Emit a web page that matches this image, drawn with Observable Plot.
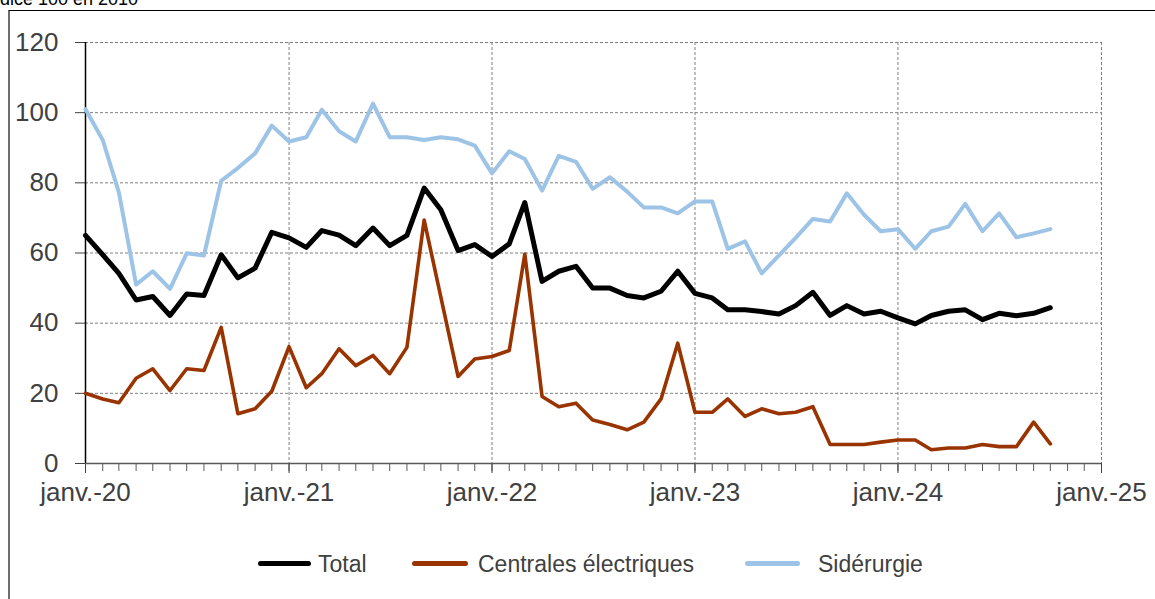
<!DOCTYPE html>
<html>
<head>
<meta charset="utf-8">
<script src="https://cdn.jsdelivr.net/npm/d3@7"></script>
<script src="https://cdn.jsdelivr.net/npm/@observablehq/plot@0.6"></script>
<style>
  html, body { margin: 0; padding: 0; background: #fff; }
  body { font-family: "Liberation Sans", Arial, sans-serif; }
  #wrap { position: relative; width: 1155px; height: 599px; overflow: hidden; }
  #title { position: relative; height: 10px; overflow: hidden; }
  #title span { position: absolute; left: -15px; top: -10px; font-size: 18px; line-height: 18px; color: #000; white-space: nowrap; }
  #chart { height: 520px; }
  #chart svg { display: block; }
  #frame { position: absolute; left: 8px; top: 10px; width: 1160px; height: 600px; border-top: 1px solid #000; border-left: 2px solid #6e6e6e; pointer-events: none; }
  #legend { position: relative; height: 69px; }
  .item { position: absolute; top: 0; height: 69px; }
  .sw { position: absolute; left: 0; top: 30.5px; height: 5px; border-radius: 2.5px; }
  .lab { position: absolute; top: 23px; font-size: 23px; line-height: 23px; color: #404040; white-space: nowrap; }
</style>
</head>
<body>
<div id="wrap">
  <div id="title"><span>Indice 100 en 2010</span></div>
  <div id="chart"></div>
  <div id="legend"></div>
  <div id="frame"></div>
</div>
<script>
// ---- Data ----
const months = [
  "2020-01","2020-02","2020-03","2020-04","2020-05","2020-06","2020-07","2020-08","2020-09","2020-10","2020-11","2020-12",
  "2021-01","2021-02","2021-03","2021-04","2021-05","2021-06","2021-07","2021-08","2021-09","2021-10","2021-11","2021-12",
  "2022-01","2022-02","2022-03","2022-04","2022-05","2022-06","2022-07","2022-08","2022-09","2022-10","2022-11","2022-12",
  "2023-01","2023-02","2023-03","2023-04","2023-05","2023-06","2023-07","2023-08","2023-09","2023-10","2023-11","2023-12",
  "2024-01","2024-02","2024-03","2024-04","2024-05","2024-06","2024-07","2024-08","2024-09","2024-10"
];
const total = [
  65, 59.5, 54.2, 46.6, 47.6, 42.2, 48.3, 47.9, 59.5, 52.9, 55.7, 65.9,
  64.3, 61.6, 66.4, 65.1, 62.1, 67.1, 62.1, 65, 78.5, 72.3, 60.7, 62.4,
  59, 62.6, 74.4, 51.9, 54.8, 56.2, 50, 50, 47.9, 47.2, 49.1, 54.8,
  48.5, 47.2, 43.8, 43.8, 43.3, 42.6, 45, 48.8, 42.2, 45, 42.6, 43.4,
  41.5, 39.8, 42.2, 43.4, 43.8, 41, 42.8, 42.1, 42.8, 44.4
];
const centrales = [
  20, 18.4, 17.3, 24.3, 27, 20.8, 27, 26.5, 38.8, 14.2, 15.6, 20.6,
  33.3, 21.6, 25.6, 32.7, 27.9, 30.8, 25.6, 33.1, 69.4, 47.4, 24.8, 29.8,
  30.5, 32.2, 59.7, 19.1, 16.2, 17.2, 12.4, 11.1, 9.6, 11.8, 18.4, 34.3,
  14.6, 14.6, 18.4, 13.4, 15.6, 14.2, 14.6, 16.2, 5.4, 5.4, 5.4, 6.1,
  6.7, 6.7, 3.9, 4.4, 4.4, 5.4, 4.8, 4.8, 11.8, 5.6
];
const siderurgie = [
  101, 92.2, 77.3, 51, 54.8, 49.8, 59.9, 59.3, 80.6, 84.2, 88.4, 96.3,
  91.8, 93, 100.8, 94.7, 91.8, 102.6, 93, 93, 92.2, 93, 92.4, 90.6,
  82.7, 89, 86.8, 77.8, 87.7, 86, 78.3, 81.6, 77.5, 73, 73, 71.3,
  74.7, 74.7, 61.2, 63.3, 54.2, 59.3, 64.3, 69.7, 69, 77, 70.9, 66.2,
  66.8, 61.2, 66.2, 67.5, 74, 66.2, 71.3, 64.5, 65.6, 66.8
];
const seriesNames = ["Total", "Centrales électriques", "Sidérurgie"];
const yTicks = [0, 20, 40, 60, 80, 100, 120];
const xTickDates = ["2020-01-01","2021-01-01","2022-01-01","2023-01-01","2024-01-01","2025-01-01"];
const xTickLabels = ["janv.-20","janv.-21","janv.-22","janv.-23","janv.-24","janv.-25"];
const titleText = "Indice 100 en 2010";

// ---- Styles ----
const colors = ["#000000", "#993300", "#9dc3e6"];
const widths = [5, 3.6, 4];
const legendLineX = [258, 412, 745];
const legendLineW = [53, 56, 55];
const legendTextX = [318, 478, 818];

// ---- Build ----
const parse = s => new Date(s.length === 7 ? s + "-01T00:00:00Z" : s + "T00:00:00Z");
const values = [total, centrales, siderurgie];
const rows = [];
seriesNames.forEach((name, k) => {
  months.forEach((m, i) => rows.push({date: parse(m), value: values[k][i], series: name}));
});
const yearDates = xTickDates.map(parse);
const labelMap = new Map(yearDates.map((d, i) => [+d, xTickLabels[i]]));
const monthTicks = d3.utcMonth.range(yearDates[0], d3.utcDay.offset(yearDates[yearDates.length - 1], 1));

document.querySelector("#title span").textContent = titleText;

const chart = Plot.plot({
  width: 1155,
  height: 520,
  marginTop: 32,
  marginBottom: 67,
  marginLeft: 85,
  marginRight: 54,
  style: {fontFamily: "'Liberation Sans', Arial, sans-serif", background: "#fff", overflow: "visible"},
  x: {type: "utc", domain: [yearDates[0], yearDates[yearDates.length - 1]], label: null},
  y: {domain: [0, 120], label: null},
  marks: [
    Plot.ruleY(yTicks.filter(d => d > 0), {stroke: "#808080", strokeWidth: 1, strokeDasharray: "3,2"}),
    Plot.ruleX(yearDates.slice(1), {stroke: "#808080", strokeWidth: 1, strokeDasharray: "3,2"}),
    Plot.axisY({ticks: yTicks, tickSize: 10, tickPadding: 17, fontSize: 26, color: "#404040", label: null, tickFormat: d => String(d)}),
    Plot.axisX({ticks: monthTicks, tickSize: 8, tickFormat: () => "", color: "#595959", label: null}),
    Plot.axisX({ticks: yearDates, tickSize: 10, tickPadding: 9.5, fontSize: 26, color: "#404040", label: null, tickFormat: d => labelMap.get(+d)}),
    Plot.ruleY([0], {stroke: "#595959", strokeWidth: 1.5}),
    Plot.ruleX([yearDates[0]], {stroke: "#000", strokeWidth: 1.5}),
    ...seriesNames.map((name, k) =>
      Plot.lineY(rows.filter(r => r.series === name), {
        x: "date", y: "value", stroke: colors[k], strokeWidth: widths[k],
        strokeLinejoin: "round", strokeLinecap: "round"
      })
    )
  ]
});
document.getElementById("chart").appendChild(chart);

// ---- Legend ----
const legend = document.getElementById("legend");
seriesNames.forEach((name, k) => {
  const sw = document.createElement("div");
  sw.className = "sw";
  sw.style.left = legendLineX[k] + "px";
  sw.style.width = legendLineW[k] + "px";
  sw.style.background = colors[k];
  const lab = document.createElement("div");
  lab.className = "lab";
  lab.style.left = legendTextX[k] + "px";
  lab.textContent = name;
  legend.appendChild(sw);
  legend.appendChild(lab);
});
</script>
</body>
</html>
